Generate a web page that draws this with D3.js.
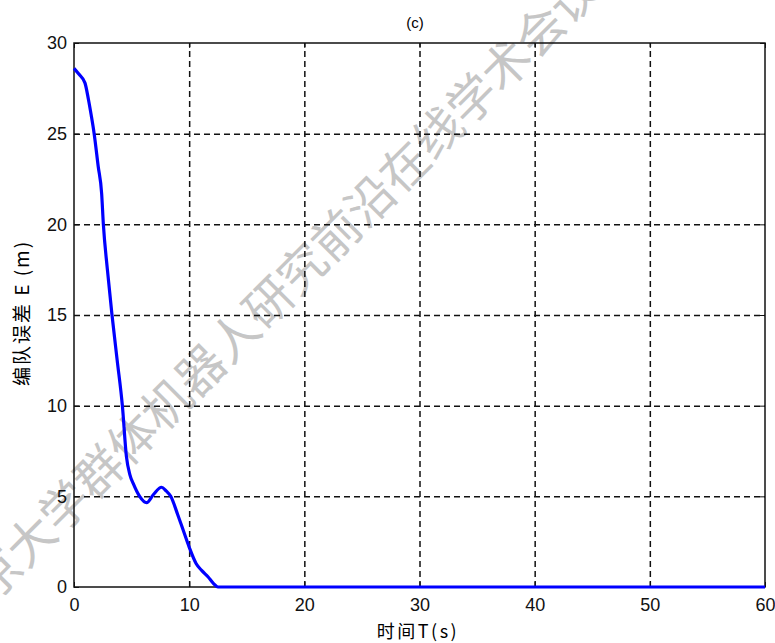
<!DOCTYPE html>
<html>
<head>
<meta charset="utf-8">
<script src="https://cdn.jsdelivr.net/npm/d3@7"></script>
<style>
  body { margin: 0; background: #fff; }
  svg { display: block; }
  .tick text { font-family: "Liberation Sans", Arial, sans-serif; font-size: 18px; fill: #111; }
  .grid line { stroke: #111; stroke-dasharray: 6,4; stroke-width: 1.5; }
  .grid path { display: none; }
</style>
</head>
<body>
<script>
// data: time (s) vs formation error (m)
const timeS  = [0, 0.4, 0.95, 1.25, 1.5, 1.75, 2.1, 2.4, 2.55, 2.9, 3.3, 3.75, 4.2, 4.55, 4.85, 5.15, 5.7, 6.3, 6.9, 7.6, 8.0, 8.4, 9.0, 9.5, 10.0, 10.6, 11.1, 11.65, 12.1, 12.5, 20, 30, 40, 50, 60];
const errorM = [28.6, 28.3, 27.8, 26.9, 26.0, 25.0, 23.2, 21.7, 20.0, 17.5, 15.0, 12.5, 10.0, 7.2, 6.2, 5.7, 5.0, 4.65, 5.1, 5.5, 5.3, 5.0, 4.0, 3.1, 2.2, 1.3, 0.9, 0.55, 0.2, 0, 0, 0, 0, 0, 0];
const xTicks = [0, 10, 20, 30, 40, 50, 60];
const yTicks = [0, 5, 10, 15, 20, 25, 30];
const titleText = "(c)";
const xLabel = "时间T(s)";
const yLabel = "编队误差 E (m)";
const watermark = "北京大学群体机器人研究前沿在线学术会议";

const width = 775, height = 643;
const svg = d3.select("body")
  .append("svg")
  .attr("xmlns", "http://www.w3.org/2000/svg")
  .attr("width", width)
  .attr("height", height);

const plotLeft = 74, plotRight = 765, plotTop = 43, plotBottom = 587;

const xScale = d3.scaleLinear().domain([0, 60]).range([plotLeft, plotRight]);
const yScale = d3.scaleLinear().domain([0, 30]).range([plotBottom, plotTop]);

// watermark sits under everything
svg.append("text")
  .attr("transform", "translate(266,300) rotate(-45)")
  .attr("text-anchor", "middle")
  .attr("dominant-baseline", "central")
  .attr("font-family", "'Noto Sans CJK SC', sans-serif")
  .attr("font-size", 48)
  .attr("fill", "#c6c6c6")
  .text(watermark);

// grid
svg.append("g")
  .attr("class", "grid")
  .attr("transform", `translate(0,${plotBottom})`)
  .call(d3.axisBottom(xScale).tickValues(xTicks.slice(1, -1)).tickSize(-(plotBottom - plotTop)).tickFormat(""));
svg.append("g")
  .attr("class", "grid")
  .attr("transform", `translate(${plotLeft},0)`)
  .call(d3.axisLeft(yScale).tickValues(yTicks.slice(1, -1)).tickSize(-(plotRight - plotLeft)).tickFormat(""));

// axes with inward ticks
svg.append("g")
  .attr("transform", `translate(0,${plotBottom})`)
  .call(d3.axisBottom(xScale).tickValues(xTicks).tickSizeInner(-5).tickSizeOuter(0).tickPadding(11));
svg.append("g")
  .attr("transform", `translate(${plotLeft},0)`)
  .call(d3.axisLeft(yScale).tickValues(yTicks).tickSizeInner(-5).tickSizeOuter(0).tickPadding(7));
svg.append("g")
  .attr("transform", `translate(0,${plotTop})`)
  .call(d3.axisTop(xScale).tickValues(xTicks).tickSizeInner(-5).tickSizeOuter(0).tickFormat(""));
svg.append("g")
  .attr("transform", `translate(${plotRight},0)`)
  .call(d3.axisRight(yScale).tickValues(yTicks).tickSizeInner(-5).tickSizeOuter(0).tickFormat(""));
svg.selectAll(".domain").remove();
svg.selectAll(".tick line").attr("stroke", "#111");

// frame
svg.append("rect")
  .attr("x", plotLeft).attr("y", plotTop)
  .attr("width", plotRight - plotLeft).attr("height", plotBottom - plotTop)
  .attr("fill", "none")
  .attr("stroke", "#111")
  .attr("stroke-width", 1.5);

// curve
const line = d3.line()
  .x((d, i) => xScale(timeS[i]))
  .y(d => yScale(d))
  .curve(d3.curveMonotoneX);
svg.append("path")
  .datum(errorM)
  .attr("d", line)
  .attr("fill", "none")
  .attr("stroke", "#0000ff")
  .attr("stroke-width", 3.2)
  .attr("stroke-linejoin", "round");

// labels
svg.append("text")
  .attr("x", 415).attr("y", 28)
  .attr("text-anchor", "middle")
  .attr("font-family", "'Liberation Sans', Arial, sans-serif")
  .attr("font-size", 15)
  .text(titleText);

svg.append("text")
  .attr("x", 418).attr("y", 638)
  .attr("text-anchor", "middle")
  .attr("font-family", "'Noto Sans CJK SC', sans-serif")
  .attr("font-size", 18)
  .attr("letter-spacing", 2.5)
  .text(xLabel);

svg.append("text")
  .attr("transform", "translate(29,313) rotate(-90)")
  .attr("text-anchor", "middle")
  .attr("font-family", "'Noto Sans CJK SC', sans-serif")
  .attr("font-size", 19)
  .attr("letter-spacing", 2)
  .text(yLabel);
</script>
</body>
</html>
